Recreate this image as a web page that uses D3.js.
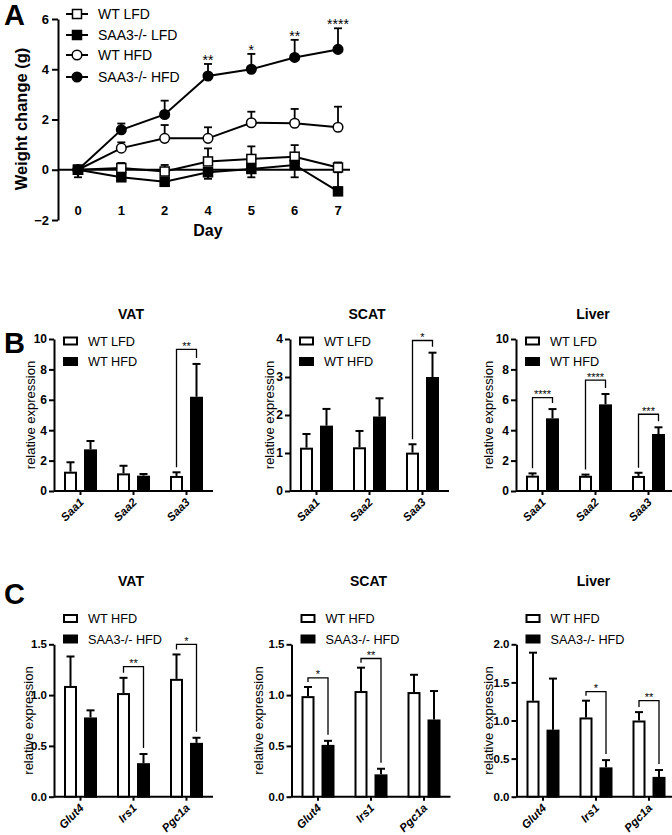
<!DOCTYPE html>
<html><head><meta charset="utf-8">
<script src="https://cdn.jsdelivr.net/npm/d3@7"></script>
<style>
body{margin:0;background:#fff}
svg{display:block}
text{font-family:"Liberation Sans",Arial,Helvetica,sans-serif;fill:#000}
</style>
</head><body>
<svg id="c" width="672" height="835"></svg>
<script>
// ---------- Panel A data ----------
const days = ["0","1","2","4","5","6","7"];
const weightTicks = [-2,0,2,4,6];
const wtLfd = [0, 0.07, -0.07, 0.33, 0.43, 0.52, 0.09];
const wtLfdErr = [0, 0.20, 0.26, 0.52, 0.50, 0.46, 0.20];
const saaLfd = [0, -0.30, -0.48, -0.10, 0.03, 0.19, -0.86];
const saaLfdErr = [-0.30, -0.10, -0.10, -0.26, -0.33, -0.49, 0.76];
const wtHfd = [0, 0.86, 1.25, 1.25, 1.87, 1.85, 1.69];
const wtHfdErr = [0, 0.23, 0.53, 0.44, 0.44, 0.57, 0.82];
const saaHfd = [0, 1.59, 2.20, 3.73, 4.00, 4.47, 4.79];
const saaHfdErr = [0, 0.25, 0.55, 0.48, 0.61, 0.70, 0.84];
const weightSig = ["", "", "", "**", "*", "**", "****"];
const weightSeriesNames = ["WT LFD", "SAA3-/- LFD", "WT HFD", "SAA3-/- HFD"];

// ---------- Panel B data ----------
const saaGenes = ["Saa1", "Saa2", "Saa3"];
const bNames = ["WT LFD", "WT HFD"];
const vatB_lfd = [1.27, 1.16, 0.99], vatB_lfdErr = [0.62, 0.50, 0.24];
const vatB_hfd = [2.74, 1.01, 6.20], vatB_hfdErr = [0.55, 0.11, 2.16];
const vatB_sig = ["", "", "**"], vatB_sigY = [0, 0, 9.32];
const vatB_ticks = [0, 2, 4, 6, 8, 10];
const scatB_lfd = [1.14, 1.15, 1.01], scatB_lfdErr = [0.36, 0.43, 0.22];
const scatB_hfd = [1.72, 1.96, 3.00], scatB_hfdErr = [0.44, 0.48, 0.64];
const scatB_sig = ["", "", "*"], scatB_sigY = [0, 0, 3.96];
const scatB_ticks = [0, 1, 2, 3, 4];
const livB_lfd = [1.01, 1.00, 0.99], livB_lfdErr = [0.15, 0.08, 0.21];
const livB_hfd = [4.78, 5.70, 3.75], livB_hfdErr = [0.61, 0.68, 0.44];
const livB_sig = ["****", "****", "***"], livB_sigY = [6.14, 7.30, 5.05];
const livB_ticks = [0, 2, 4, 6, 8, 10];

// ---------- Panel C data ----------
const metGenes = ["Glut4", "Irs1", "Pgc1a"];
const cNames = ["WT HFD", "SAA3-/- HFD"];
const vatC_wt = [1.09, 1.02, 1.16], vatC_wtErr = [0.29, 0.15, 0.24];
const vatC_ko = [0.78, 0.33, 0.53], vatC_koErr = [0.07, 0.09, 0.05];
const vatC_sig = ["", "**", "*"], vatC_sigY = [0, 1.28, 1.50];
const vatC_ticks = [0, 0.5, 1.0, 1.5];
const scatC_wt = [0.99, 1.04, 1.03], scatC_wtErr = [0.09, 0.23, 0.17];
const scatC_ko = [0.51, 0.22, 0.76], scatC_koErr = [0.04, 0.055, 0.28];
const scatC_sig = ["*", "**", ""], scatC_sigY = [1.17, 1.36, 0];
const scatC_ticks = [0, 0.5, 1.0, 1.5];
const livC_wt = [1.26, 1.04, 1.00], livC_wtErr = [0.63, 0.22, 0.11];
const livC_ko = [0.88, 0.385, 0.26], livC_koErr = [0.67, 0.095, 0.09];
const livC_sig = ["", "*", "**"], livC_sigY = [0, 1.38, 1.26];
const livC_ticks = [0, 0.5, 1.0, 1.5, 2.0];

const svg = d3.select("#c");
const FONT = '"Liberation Sans",Arial,sans-serif';

function styleAxis(g, size, bold) {
  g.select(".domain").attr("stroke", "#000").attr("stroke-width", 2);
  g.selectAll(".tick line").attr("stroke", "#000").attr("stroke-width", 2);
  g.selectAll(".tick text").attr("font-size", size).attr("font-weight", bold ? "bold" : "normal")
    .attr("font-family", FONT).attr("fill", "#000");
}

// panel letters
svg.append("text").attr("x", 4).attr("y", 25).attr("font-size", 29).attr("font-weight", "bold").text("A");
svg.append("text").attr("x", 4).attr("y", 353).attr("font-size", 29).attr("font-weight", "bold").text("B");
svg.append("text").attr("x", 4).attr("y", 604).attr("font-size", 29).attr("font-weight", "bold").text("C");

// ---------- Panel A ----------
(function () {
  const xA = d3.scalePoint().domain(days).range([78, 338]);
  const yA = d3.scaleLinear().domain([-2, 6]).range([220, 19]);
  const g = svg.append("g");
  const ya = g.append("g").attr("transform", "translate(58,0)")
    .call(d3.axisLeft(yA).tickValues(weightTicks).tickSize(6).tickSizeOuter(0).tickPadding(3).tickFormat(d3.format("d")));
  styleAxis(ya, 13, true);
  g.append("line").attr("x1", 58).attr("x2", 350).attr("y1", yA(0)).attr("y2", yA(0))
    .attr("stroke", "#000").attr("stroke-width", 2);
  g.selectAll(".dayLab").data(days).enter().append("text")
    .attr("x", d => xA(d)).attr("y", yA(-1.6) + 5).attr("text-anchor", "middle")
    .attr("font-size", 13).attr("font-weight", "bold").text(d => d);
  g.append("text").attr("x", xA("4")).attr("y", 236).attr("text-anchor", "middle")
    .attr("font-size", 16).attr("font-weight", "bold").text("Day");
  g.append("text").attr("transform", "translate(27,119) rotate(-90)").attr("text-anchor", "middle")
    .attr("font-size", 16.5).attr("font-weight", "bold").text("Weight change (g)");

  const series = [
    { name: weightSeriesNames[0], v: wtLfd, e: wtLfdErr, shape: "square", fill: "#fff" },
    { name: weightSeriesNames[1], v: saaLfd, e: saaLfdErr, shape: "square", fill: "#000" },
    { name: weightSeriesNames[2], v: wtHfd, e: wtHfdErr, shape: "circle", fill: "#fff" },
    { name: weightSeriesNames[3], v: saaHfd, e: saaHfdErr, shape: "circle", fill: "#000" }
  ];
  const line = d3.line().x((d, i) => xA(days[i])).y(d => yA(d));
  function marker(sel, s, x, y) {
    if (s.shape === "square") {
      sel.append("rect").attr("x", x - 4.5).attr("y", y - 4.5).attr("width", 9).attr("height", 9)
        .attr("fill", s.fill).attr("stroke", "#000").attr("stroke-width", 1.5);
    } else {
      sel.append("circle").attr("cx", x).attr("cy", y).attr("r", 4.8)
        .attr("fill", s.fill).attr("stroke", "#000").attr("stroke-width", 1.5);
    }
  }
  series.forEach(s => {
    g.append("path").attr("d", line(s.v)).attr("fill", "none").attr("stroke", "#000").attr("stroke-width", 2);
  });
  series.forEach(s => {
    s.v.forEach((v, i) => {
      const e = s.e[i];
      if (!e) return;
      const x = xA(days[i]);
      g.append("line").attr("x1", x).attr("x2", x).attr("y1", yA(v)).attr("y2", yA(v + e))
        .attr("stroke", "#000").attr("stroke-width", 1.8);
      g.append("line").attr("x1", x - 4).attr("x2", x + 4).attr("y1", yA(v + e)).attr("y2", yA(v + e))
        .attr("stroke", "#000").attr("stroke-width", 1.8);
    });
  });
  series.forEach(s => {
    s.v.forEach((v, i) => marker(g, s, xA(days[i]), yA(v)));
  });
  weightSig.forEach((t, i) => {
    if (!t) return;
    g.append("text").attr("x", xA(days[i])).attr("y", yA(saaHfd[i] + saaHfdErr[i]) + 1)
      .attr("text-anchor", "middle").attr("font-size", 14).text(t);
  });
  const legY = [14, 35, 55, 77];
  series.forEach((s, i) => {
    g.append("line").attr("x1", 66).attr("x2", 88).attr("y1", legY[i]).attr("y2", legY[i])
      .attr("stroke", "#000").attr("stroke-width", 2);
    marker(g, s, 77, legY[i]);
    g.append("text").attr("x", 98).attr("y", legY[i]).attr("dy", "0.36em").attr("font-size", 14).text(s.name);
  });
})();

// ---------- Bar panels ----------
function barPanel(o) {
  const g = svg.append("g");
  const y = d3.scaleLinear().domain([0, o.ticks[o.ticks.length - 1]]).range([o.bottom, o.top]);
  const x0 = d3.scaleBand().domain(o.cats).range([o.ax, o.ax + 159]);
  const x1 = d3.scaleBand().domain([0, 1]).range([0, x0.bandwidth()]).paddingInner(0.35).paddingOuter(0.5);
  const bw = x1.bandwidth();
  g.append("text").attr("x", o.ax + 77).attr("y", o.titleY).attr("dy", "0.36em").attr("text-anchor", "middle")
    .attr("font-size", 14).attr("font-weight", "bold").text(o.title);
  const ya = g.append("g").attr("transform", `translate(${o.ax},0)`)
    .call(d3.axisLeft(y).tickValues(o.ticks).tickSize(5).tickSizeOuter(0).tickPadding(2).tickFormat(o.fmt));
  styleAxis(ya, o.tickSize, true);
  const xa = g.append("g").attr("transform", `translate(0,${o.bottom})`)
    .call(d3.axisBottom(x0).tickSize(4).tickSizeOuter(0).tickFormat(""));
  styleAxis(xa, 11, true);
  xa.select(".domain").attr("d", `M${o.ax},0H${o.ax + 159}`);
  g.selectAll(".xl" + o.id).data(o.cats).enter().append("text")
    .attr("transform", d => `translate(${x0(d) + x0.bandwidth() / 2 + 4},${o.bottom + 12}) rotate(-45)`)
    .attr("text-anchor", "end").attr("font-size", 11.5).attr("font-weight", "bold").attr("font-style", "italic")
    .text(d => d);
  g.append("text").attr("transform", `translate(${o.ylabX},${(o.top + o.bottom) / 2}) rotate(-90)`)
    .attr("dy", "0.35em").attr("text-anchor", "middle").attr("font-size", 13).text("relative expression");
  const sets = [{ v: o.s1, e: o.e1, fill: "#fff" }, { v: o.s2, e: o.e2, fill: "#000" }];
  sets.forEach((s, k) => {
    o.cats.forEach((c, i) => {
      const bx = x0(c) + x1(k);
      const cx = bx + bw / 2;
      const top = y(s.v[i] + s.e[i]);
      g.append("line").attr("x1", cx).attr("x2", cx).attr("y1", y(s.v[i])).attr("y2", top)
        .attr("stroke", "#000").attr("stroke-width", 2);
      g.append("line").attr("x1", cx - 4).attr("x2", cx + 4).attr("y1", top).attr("y2", top)
        .attr("stroke", "#000").attr("stroke-width", 2);
      g.append("rect").attr("x", bx + 1).attr("y", y(s.v[i]) + 1).attr("width", bw - 2)
        .attr("height", o.bottom - y(s.v[i]) - 1)
        .attr("fill", s.fill).attr("stroke", "#000").attr("stroke-width", 2);
    });
  });
  o.cats.forEach((c, i) => {
    if (!o.sig[i]) return;
    const lx = x0(c) + x1(0) + bw / 2, rx = x0(c) + x1(1) + bw / 2;
    const by = y(o.sigY[i]);
    const lb = y(o.s1[i] + o.e1[i]) - 5, rb = y(o.s2[i] + o.e2[i]) - 6;
    g.append("path").attr("d", `M${lx},${lb}V${by}H${rx}V${rb}`)
      .attr("fill", "none").attr("stroke", "#000").attr("stroke-width", 1.3);
    g.append("text").attr("x", (lx + rx) / 2).attr("y", by + 0.5).attr("text-anchor", "middle")
      .attr("font-size", 11).text(o.sig[i]);
  });
  o.names.forEach((n, k) => {
    const ly = o.legY[k];
    g.append("rect").attr("x", o.ax + 10).attr("y", ly - 3.5).attr("width", 13).attr("height", 7)
      .attr("fill", k ? "#000" : "#fff").attr("stroke", "#000").attr("stroke-width", 2);
    g.append("text").attr("x", o.ax + 34).attr("y", ly).attr("dy", "0.36em").attr("font-size", 12.7).text(n);
  });
}

const f0 = d3.format("d"), f1 = d3.format(".1f");
barPanel({ id: "vb", ax: 54, top: 339, bottom: 491, ticks: vatB_ticks, fmt: f0, tickSize: 12, cats: saaGenes,
  s1: vatB_lfd, e1: vatB_lfdErr, s2: vatB_hfd, e2: vatB_hfdErr, sig: vatB_sig, sigY: vatB_sigY,
  names: bNames, title: "VAT", titleY: 314, ylabX: 30, legY: [341, 361.5] });
barPanel({ id: "sb", ax: 290, top: 339, bottom: 491, ticks: scatB_ticks, fmt: f0, tickSize: 12, cats: saaGenes,
  s1: scatB_lfd, e1: scatB_lfdErr, s2: scatB_hfd, e2: scatB_hfdErr, sig: scatB_sig, sigY: scatB_sigY,
  names: bNames, title: "SCAT", titleY: 314, ylabX: 269, legY: [341, 361.5] });
barPanel({ id: "lb", ax: 516, top: 339, bottom: 491, ticks: livB_ticks, fmt: f0, tickSize: 12, cats: saaGenes,
  s1: livB_lfd, e1: livB_lfdErr, s2: livB_hfd, e2: livB_hfdErr, sig: livB_sig, sigY: livB_sigY,
  names: bNames, title: "Liver", titleY: 314, ylabX: 488, legY: [341, 361.5] });

barPanel({ id: "vc", ax: 54, top: 644.3, bottom: 796.7, ticks: vatC_ticks, fmt: f1, tickSize: 11.5, cats: metGenes,
  s1: vatC_wt, e1: vatC_wtErr, s2: vatC_ko, e2: vatC_koErr, sig: vatC_sig, sigY: vatC_sigY,
  names: cNames, title: "VAT", titleY: 581, ylabX: 28, legY: [618.5, 639] });
barPanel({ id: "sc", ax: 291.5, top: 644.3, bottom: 796.7, ticks: scatC_ticks, fmt: f1, tickSize: 11.5, cats: metGenes,
  s1: scatC_wt, e1: scatC_wtErr, s2: scatC_ko, e2: scatC_koErr, sig: scatC_sig, sigY: scatC_sigY,
  names: cNames, title: "SCAT", titleY: 581, ylabX: 258.5, legY: [618.5, 639] });
barPanel({ id: "lc", ax: 516.5, top: 644.3, bottom: 796.7, ticks: livC_ticks, fmt: f1, tickSize: 11.5, cats: metGenes,
  s1: livC_wt, e1: livC_wtErr, s2: livC_ko, e2: livC_koErr, sig: livC_sig, sigY: livC_sigY,
  names: cNames, title: "Liver", titleY: 581, ylabX: 488, legY: [618.5, 639] });
</script>
</body></html>
